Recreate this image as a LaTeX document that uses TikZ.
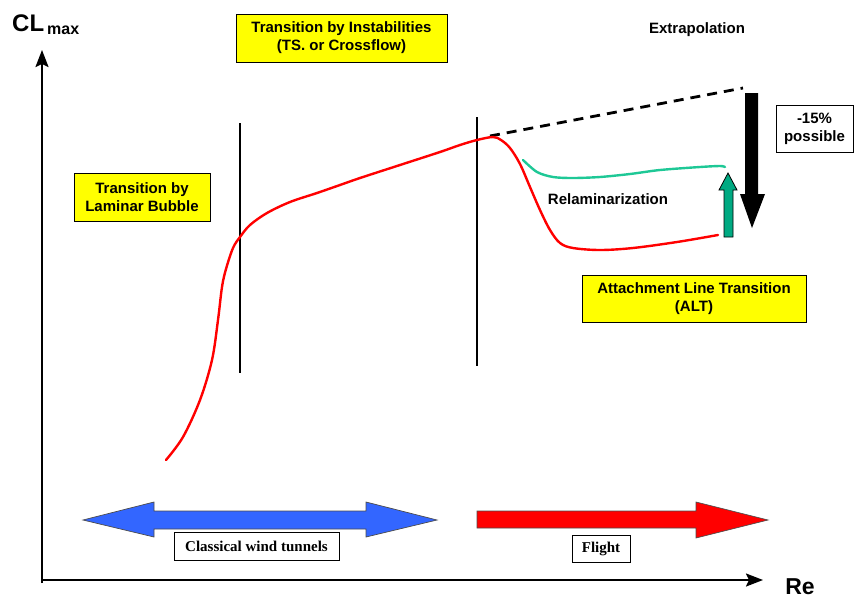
\documentclass[tikz,border=0pt]{standalone}
\usepackage{fontspec}
\setmainfont{Liberation Sans}
\newfontfamily\timesfam{Liberation Serif}
\usetikzlibrary{arrows.meta}
\definecolor{ayellow}{RGB}{255,255,0}
\definecolor{ablue}{RGB}{51,102,255}
\definecolor{ared}{RGB}{255,0,0}
\definecolor{amint}{RGB}{30,200,150}
\definecolor{agreen}{RGB}{0,170,130}
\begin{document}
\begin{tikzpicture}[x=1pt,y=-1pt,
  ybox/.style={draw=black, line width=1pt, fill=ayellow, align=center, inner sep=0pt,
    font=\bfseries\fontsize{15}{18}\selectfont},
  wbox/.style={draw=black, line width=1pt, fill=white, align=center, inner sep=0pt,
    font=\bfseries\fontsize{15}{18}\selectfont},
  lbl/.style={inner sep=0pt, font=\bfseries\fontsize{15}{18}\selectfont},
  tbox/.style={draw=black, line width=0.9pt, fill=white, inner sep=0pt,
    font=\timesfam\bfseries\fontsize{15}{17}\selectfont},
  axisline/.style={line width=2pt, -{Stealth[length=17pt,width=13pt,inset=3pt]}},
  divider/.style={line width=2pt},
  curve/.style={line width=2.4pt, line cap=round, line join=round},
  bigarrow/.style={draw=black!70, line width=0.7pt, line join=miter}
]
\useasboundingbox (0,0) rectangle (854,598);

% axes
\coordinate (O) at (42,580);
\coordinate (ybot) at (42,583);
\coordinate (ytop) at (42,50);
\coordinate (xend) at (763,580);
\draw[axisline] (ybot) -- (ytop);
\draw[axisline] (41,580) -- (xend);

% axis labels
\node[anchor=base west, inner sep=0pt, font=\bfseries\fontsize{24}{24}\selectfont] (cl) at (12,31) {CL};
\node[anchor=base west, inner sep=0pt, font=\bfseries\fontsize{16}{16}\selectfont] (mx) at (47,34) {max};
\node[anchor=base, inner sep=0pt, font=\bfseries\fontsize{23}{23}\selectfont] (re) at (800,594) {Re};

% divider lines
\coordinate (v1t) at (240,123); \coordinate (v1b) at (240,373);
\coordinate (v2t) at (477,117); \coordinate (v2b) at (477,366);
\draw[divider] (v1t) -- (v1b);
\draw[divider] (v2t) -- (v2b);

% extrapolation dashed line
\coordinate (ex0) at (490,136); \coordinate (ex1) at (743,88);
\draw[line width=2.8pt, dash pattern=on 10pt off 7pt] (ex0) -- (ex1);

% red CLmax curve
\draw[curve, ared] plot[smooth, tension=0.55] coordinates {
 (166,460) (183,437) (200,400) (212,360) (218,320) (222,287) (226,269) (233,248) (240,237)
 (250,225) (267,213) (290,202) (317,193) (340,185) (360,178) (400,165) (440,152) (460,145)
 (477,140) (493,137) (501,140) (510,148) (520,164) (530,187) (540,210) (550,230) (560,243)
 (573,248) (600,250) (633,248) (677,242) (718,235)};

% green relaminarization curve
\draw[curve, amint] plot[smooth, tension=0.5] coordinates {
 (523,160) (537,172) (553,177) (573,178) (600,177) (630,174) (660,170) (700,167) (720,166) (725,167)};

% black down arrow
\fill[black] (745,93) -- (758,93) -- (758,194) -- (765,194) -- (752,228) -- (740,194) -- (745,194) -- cycle;
% green up arrow
\filldraw[fill=agreen, draw=black, line width=0.8pt] (724,237) -- (733,237) -- (733,190) -- (737,190) -- (728,173) -- (719,190) -- (724,190) -- cycle;

% boxes and labels
\node[ybox, minimum width=211pt, minimum height=48pt] (tsbox) at (341.5,38) {Transition by Instabilities\\(TS. or Crossflow)};
\node[ybox, minimum width=136pt, minimum height=48pt] (lbbox) at (142,197) {Transition by\\Laminar Bubble};
\node[ybox, minimum width=224pt, minimum height=47pt] (altbox) at (694,298.5) {Attachment Line Transition\\(ALT)};
\node[wbox, minimum width=77pt, minimum height=47pt] (pct) at (814.5,128.5) {-15\%\\possible};
\node[lbl] (extra) at (697,30) {Extrapolation};
\node[lbl] (relam) at (608,199) {Relaminarization};

% bottom range arrows
\filldraw[bigarrow, fill=ablue] (83,520) -- (154,502) -- (154,511) -- (366,511) -- (366,502) -- (437,520)
  -- (366,537) -- (366,529) -- (154,529) -- (154,537) -- cycle;
\filldraw[bigarrow, fill=ared] (477,511) -- (696,511) -- (696,502) -- (768,520) -- (696,538) -- (696,528)
  -- (477,528) -- cycle;
\node[tbox, minimum width=165pt, minimum height=28pt] (wt) at (256.5,546) {Classical wind tunnels};
\node[tbox, minimum width=58pt, minimum height=27pt] (fl) at (601,548.5) {Flight};
\end{tikzpicture}
\end{document}
